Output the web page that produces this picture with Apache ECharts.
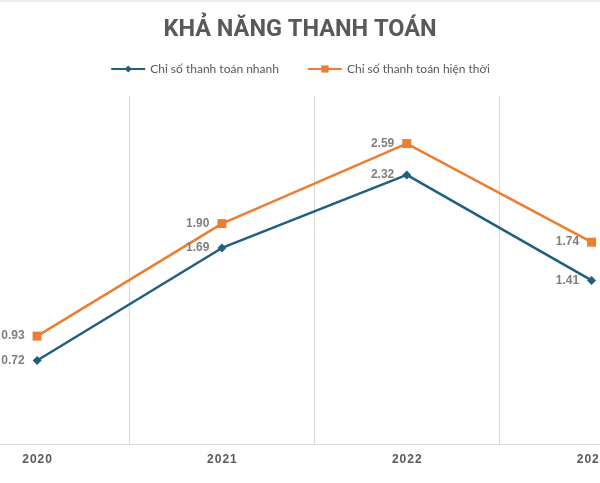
<!DOCTYPE html>
<html><head><meta charset="utf-8">
<script src="https://cdn.jsdelivr.net/npm/echarts@6/dist/echarts.min.js"></script>
<style>html,body{margin:0;padding:0;background:#fff;overflow:hidden;width:600px;height:483px}
#c{position:absolute;left:-84px;top:0;width:768px;height:483px}</style>
</head><body><div id="c"></div>
<script>
const years = ['2020', '2021', '2022', '2023'];
const quickRatio = [0.72, 1.69, 2.32, 1.41];
const currentRatio = [0.93, 1.90, 2.59, 1.74];
const seriesNames = ['Chỉ số thanh toán nhanh', 'Chỉ số thanh toán hiện thời'];
const titleText = 'KHẢ NĂNG THANH TOÁN';

const chart = echarts.init(document.getElementById('c'));
const labelStyle = {
  show: true, position: 'left', distance: 8,
  color: '#7f7f7f', fontSize: 12, fontWeight: 'bold', fontFamily: 'Liberation Sans',
  formatter: p => p.value.toFixed(2)
};
chart.setOption({
  animation: false,
  title: {
    text: titleText, left: 'center', top: 13,
    textStyle: { fontFamily: 'Roboto', fontSize: 23.5, fontWeight: 'bold', color: '#595959' }
  },
  graphic: [{ type: 'line', shape: { x1: 84, y1: 1, x2: 684, y2: 1 }, style: { stroke: '#d9d9d9', lineWidth: 1 } }],
  legend: {
    top: 58, left: 'center', itemGap: 28, itemWidth: 34, itemHeight: 9,
    textStyle: { fontFamily: 'Lato', fontSize: 12, color: '#595959' },
    data: seriesNames
  },
  grid: { left: 28.7, right: 0, top: 96, bottom: 39 },
  xAxis: {
    type: 'category', data: years, boundaryGap: true,
    axisLine: { lineStyle: { color: '#d9d9d9', width: 1 } },
    axisTick: { show: false },
    splitLine: { show: true, lineStyle: { color: '#d9d9d9', width: 1 } },
    axisLabel: { color: '#595959', fontSize: 12, fontWeight: 'bold', fontFamily: 'Liberation Sans', margin: 10,
      formatter: v => v.split('').join('\u200A') }
  },
  yAxis: { type: 'value', min: 0, max: 3, show: false, splitLine: { show: false } },
  series: [
    { name: seriesNames[0], type: 'line', data: quickRatio, symbol: 'diamond', symbolSize: 9,
      lineStyle: { color: '#1f5f7f', width: 2.5 }, itemStyle: { color: '#1f5f7f' }, label: labelStyle },
    { name: seriesNames[1], type: 'line', data: currentRatio, symbol: 'rect', symbolSize: 9,
      lineStyle: { color: '#ed7d31', width: 2.5 }, itemStyle: { color: '#ed7d31' }, label: labelStyle }
  ]
});
</script></body></html>
